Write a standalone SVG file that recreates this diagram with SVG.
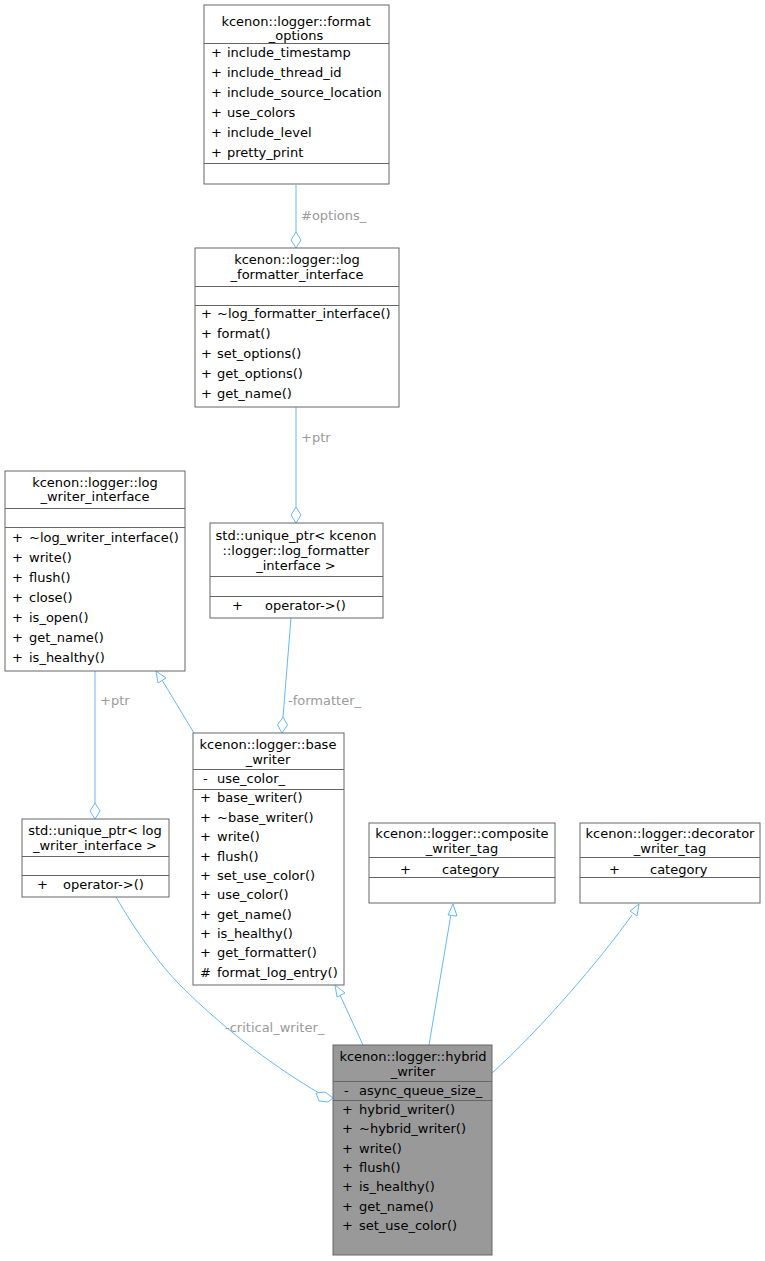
<svg xmlns="http://www.w3.org/2000/svg" width="765" height="1261" viewBox="0 0 765 1261">
<style>
text{font-family:"DejaVu Sans",sans-serif;font-size:13px;fill:#000}
.t{text-anchor:middle}
.b{fill:#fff;stroke:#666;stroke-width:1}
.s{stroke:#666;stroke-width:1}
.c{fill:none;stroke:#63b8ff;stroke-width:1}
.h{fill:#fff;stroke:#63b8ff;stroke-width:1}
.l{fill:#9a9a9a}
</style>
<rect width="765" height="1261" fill="#fff"/>
<g id="connectors">
<path class="c" d="M296,185 V232"/><path class="h" d="M296,248 l-5,-8 l5,-8 l5,8 z"/>
<text class="l" x="301" y="220">#options_</text>
<path class="c" d="M296,407 V507"/><path class="h" d="M296,523 l-5,-8 l5,-8 l5,8 z"/>
<text class="l" x="301" y="442">+ptr</text>
<path class="c" d="M95,671 V803"/><path class="h" d="M95,819 l-5,-8 l5,-8 l5,8 z"/>
<text class="l" x="100" y="705">+ptr</text>
<path class="c" d="M291,618 L283,717"/><path class="h" d="M282,733 l-4.5,-8 l5.5,-8 l4.5,8 z"/>
<text class="l" x="288" y="705">-formatter_</text>
<path class="c" d="M194,733 L162,680"/><path class="h" d="M156,671 l10,7 l-8,5 z"/>
<path class="c" d="M363,1045 L340,995"/><path class="h" d="M335,985 l10,8 l-8,4 z"/>
<path class="c" d="M429,1045 L451,914"/><path class="h" d="M453,904 l4,12 l-9,-1 z"/>
<path class="c" d="M492,1073 C540,1030 600,960 632,915"/><path class="h" d="M639,904 l-2,12 l-7,-5 z"/>
<path class="c" d="M116,897 C135,930 160,965 180,985 C230,1035 280,1070 319,1093"/><path class="h" d="M333,1098 l-8,-6 l-9,1 l3,8 l9,1 z"/>
<text class="l" x="225" y="1032">-critical_writer_</text>
</g>
<g id="format_options">
<rect class="b" x="204" y="5" width="185" height="179"/>
<text class="t" x="296" y="26">kcenon::logger::format</text><text class="t" x="296" y="40">_options</text>
<path class="s" d="M204,43.5H389M204,163.5H389"/>
<text y="57"><tspan x="211">+</tspan><tspan x="227">include_timestamp</tspan></text>
<text y="77"><tspan x="211">+</tspan><tspan x="227">include_thread_id</tspan></text>
<text y="97"><tspan x="211">+</tspan><tspan x="227">include_source_location</tspan></text>
<text y="117"><tspan x="211">+</tspan><tspan x="227">use_colors</tspan></text>
<text y="137"><tspan x="211">+</tspan><tspan x="227">include_level</tspan></text>
<text y="157"><tspan x="211">+</tspan><tspan x="227">pretty_print</tspan></text>
</g>
<g id="log_formatter_interface">
<rect class="b" x="195" y="248" width="204" height="159"/>
<text class="t" x="297" y="264">kcenon::logger::log</text><text class="t" x="297" y="279">_formatter_interface</text>
<path class="s" d="M195,286.5H399M195,305.5H399"/>
<text y="318"><tspan x="201">+</tspan><tspan x="217">~log_formatter_interface()</tspan></text>
<text y="338"><tspan x="201">+</tspan><tspan x="217">format()</tspan></text>
<text y="358"><tspan x="201">+</tspan><tspan x="217">set_options()</tspan></text>
<text y="378"><tspan x="201">+</tspan><tspan x="217">get_options()</tspan></text>
<text y="398"><tspan x="201">+</tspan><tspan x="217">get_name()</tspan></text>
</g>
<g id="log_writer_interface">
<rect class="b" x="5" y="471" width="180" height="200"/>
<text class="t" x="95" y="487">kcenon::logger::log</text><text class="t" x="95" y="501">_writer_interface</text>
<path class="s" d="M5,508.5H185M5,527.5H185"/>
<text y="542"><tspan x="12">+</tspan><tspan x="29">~log_writer_interface()</tspan></text>
<text y="562"><tspan x="12">+</tspan><tspan x="29">write()</tspan></text>
<text y="582"><tspan x="12">+</tspan><tspan x="29">flush()</tspan></text>
<text y="602"><tspan x="12">+</tspan><tspan x="29">close()</tspan></text>
<text y="622"><tspan x="12">+</tspan><tspan x="29">is_open()</tspan></text>
<text y="642"><tspan x="12">+</tspan><tspan x="29">get_name()</tspan></text>
<text y="662"><tspan x="12">+</tspan><tspan x="29">is_healthy()</tspan></text>
</g>
<g id="unique_ptr_formatter">
<rect class="b" x="210" y="523" width="173" height="95"/>
<text class="t" x="296" y="540">std::unique_ptr&lt; kcenon</text><text class="t" x="296" y="555">::logger::log_formatter</text><text class="t" x="296" y="570">_interface &gt;</text>
<path class="s" d="M210,576.5H383M210,596.5H383"/>
<text x="232" y="610">+</text><text x="265" y="610">operator-&gt;()</text>
</g>
<g id="base_writer">
<rect class="b" x="193" y="733" width="151" height="252"/>
<text class="t" x="268" y="749">kcenon::logger::base</text><text class="t" x="268" y="764">_writer</text>
<path class="s" d="M193,769.5H344M193,789.5H344"/>
<text y="783"><tspan x="203">-</tspan><tspan x="217">use_color_</tspan></text>
<text y="802"><tspan x="200">+</tspan><tspan x="217">base_writer()</tspan></text>
<text y="822"><tspan x="200">+</tspan><tspan x="217">~base_writer()</tspan></text>
<text y="841"><tspan x="200">+</tspan><tspan x="217">write()</tspan></text>
<text y="861"><tspan x="200">+</tspan><tspan x="217">flush()</tspan></text>
<text y="880"><tspan x="200">+</tspan><tspan x="217">set_use_color()</tspan></text>
<text y="899"><tspan x="200">+</tspan><tspan x="217">use_color()</tspan></text>
<text y="919"><tspan x="200">+</tspan><tspan x="217">get_name()</tspan></text>
<text y="938"><tspan x="200">+</tspan><tspan x="217">is_healthy()</tspan></text>
<text y="957"><tspan x="200">+</tspan><tspan x="217">get_formatter()</tspan></text>
<text y="977"><tspan x="200">#</tspan><tspan x="217">format_log_entry()</tspan></text>
</g>
<g id="unique_ptr_writer">
<rect class="b" x="22" y="819" width="147" height="78"/>
<text class="t" x="95" y="835">std::unique_ptr&lt; log</text><text class="t" x="95" y="850">_writer_interface &gt;</text>
<path class="s" d="M22,856.5H169M22,875.5H169"/>
<text x="37" y="889">+</text><text x="63" y="889">operator-&gt;()</text>
</g>
<g id="composite_writer_tag">
<rect class="b" x="369" y="823" width="186" height="80"/>
<text class="t" x="462" y="838">kcenon::logger::composite</text><text class="t" x="462" y="853">_writer_tag</text>
<path class="s" d="M369,857.5H555M369,877.5H555"/>
<text x="400" y="874">+</text><text x="442" y="874">category</text>
</g>
<g id="decorator_writer_tag">
<rect class="b" x="580" y="823" width="180" height="80"/>
<text class="t" x="670" y="838">kcenon::logger::decorator</text><text class="t" x="670" y="853">_writer_tag</text>
<path class="s" d="M580,857.5H760M580,877.5H760"/>
<text x="609" y="874">+</text><text x="650" y="874">category</text>
</g>
<g id="hybrid_writer">
<rect x="333" y="1045" width="159" height="210" fill="#999" stroke="#666"/>
<text class="t" x="413" y="1061">kcenon::logger::hybrid</text><text class="t" x="413" y="1076">_writer</text>
<path class="s" d="M333,1081.5H492M333,1100.5H492"/>
<text y="1095"><tspan x="344">-</tspan><tspan x="359">async_queue_size_</tspan></text>
<text y="1114"><tspan x="342">+</tspan><tspan x="359">hybrid_writer()</tspan></text>
<text y="1133"><tspan x="342">+</tspan><tspan x="359">~hybrid_writer()</tspan></text>
<text y="1153"><tspan x="342">+</tspan><tspan x="359">write()</tspan></text>
<text y="1172"><tspan x="342">+</tspan><tspan x="359">flush()</tspan></text>
<text y="1191"><tspan x="342">+</tspan><tspan x="359">is_healthy()</tspan></text>
<text y="1211"><tspan x="342">+</tspan><tspan x="359">get_name()</tspan></text>
<text y="1230"><tspan x="342">+</tspan><tspan x="359">set_use_color()</tspan></text>
</g>
</svg>
